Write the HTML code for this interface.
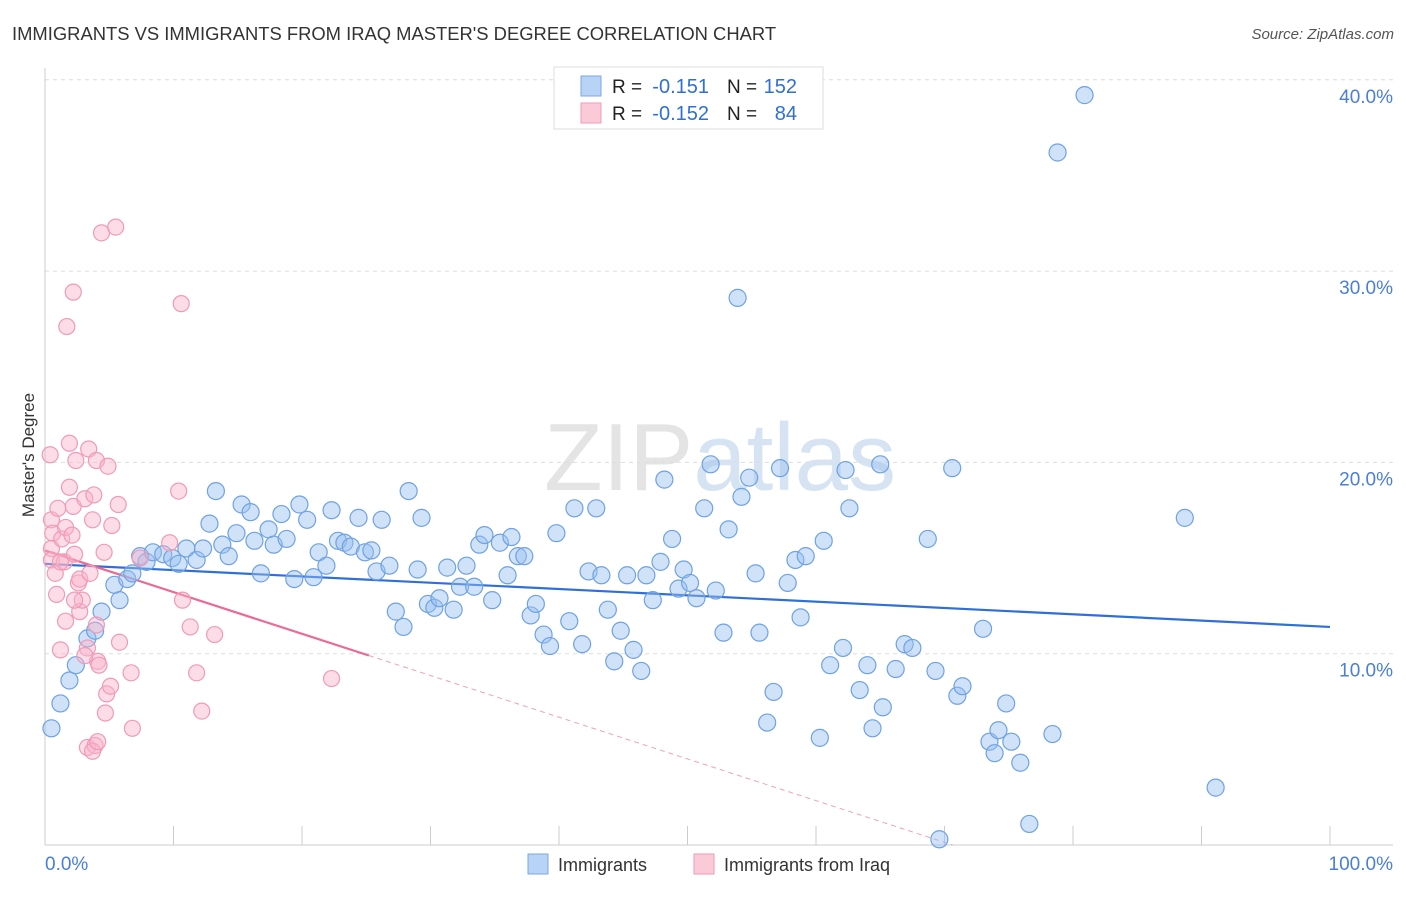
<!DOCTYPE html>
<html><head><meta charset="utf-8"><style>
body{margin:0;background:#fff;font-family:"Liberation Sans",sans-serif;}
svg text{font-family:"Liberation Sans",sans-serif;}
</style></head><body>
<svg id="chart" width="1406" height="892" xmlns="http://www.w3.org/2000/svg">
<text x="12" y="40" font-size="18.4" fill="#333">IMMIGRANTS VS IMMIGRANTS FROM IRAQ MASTER'S DEGREE CORRELATION CHART</text>
<text x="1394" y="39" font-size="15" fill="#555" font-style="italic" text-anchor="end">Source: ZipAtlas.com</text>
<text x="720" y="490" font-size="96" fill="#e4e4e4" text-anchor="middle" font-family="Liberation Serif">ZIP<tspan fill="#d6e3f3" font-family="Liberation Sans">atlas</tspan></text>
<g id="grid"></g>
<g id="axes"></g>
<g id="trend"></g>
<g id="points"></g>
<text transform="translate(34,455) rotate(-90)" font-size="17" fill="#333" text-anchor="middle">Master's Degree</text>
<text x="45" y="870" font-size="19" fill="#4a7fd6">0.0%</text>
<text x="1393" y="870" font-size="19" fill="#4a7fd6" text-anchor="end">100.0%</text>
<g>
<rect x="554" y="67" width="269" height="62" fill="#fff" stroke="#ddd"/>
<rect x="581" y="76" width="20" height="20" fill="#b8d3f5" stroke="#7aa8e6"/>
<text x="612" y="93" font-size="19" fill="#222">R =</text>
<text x="709" y="93" font-size="20" fill="#2f6fd6" text-anchor="end">-0.151</text>
<text x="727" y="93" font-size="19" fill="#222">N =</text>
<text x="797" y="93" font-size="20" fill="#2f6fd6" text-anchor="end">152</text>
<rect x="581" y="103" width="20" height="20" fill="#fbcad8" stroke="#f19ab6"/>
<text x="612" y="120" font-size="19" fill="#222">R =</text>
<text x="709" y="120" font-size="20" fill="#2f6fd6" text-anchor="end">-0.152</text>
<text x="727" y="120" font-size="19" fill="#222">N =</text>
<text x="797" y="120" font-size="20" fill="#2f6fd6" text-anchor="end">84</text>
</g>
<g>
<rect x="528" y="854" width="20" height="20" fill="#b8d3f5" stroke="#7aa8e6"/>
<text x="558" y="871" font-size="18" fill="#333">Immigrants</text>
<rect x="694" y="854" width="20" height="20" fill="#fbcad8" stroke="#f19ab6"/>
<text x="724" y="871" font-size="18" fill="#333">Immigrants from Iraq</text>
</g>
</svg>
<script>
const yTicks=[10,20,30,40];
const yTickLabels=["10.0%","20.0%","30.0%","40.0%"];
const xTicks=[0,10,20,30,40,50,60,70,80,90,100];
const blueX=[80.9,78.8,53.9,88.7,91.1,76.6,69.6,0.5,1.2,1.9,2.4,3.3,3.9,4.4,5.8,5.4,6.4,6.8,7.4,7.9,8.4,9.2,9.9,10.4,11.0,11.8,12.3,12.8,13.3,13.8,14.3,14.9,15.3,16.0,16.3,16.8,17.4,17.8,18.4,18.8,19.4,19.8,20.4,20.9,21.3,21.9,22.3,22.8,23.3,23.8,24.4,24.9,25.4,25.8,26.2,26.8,27.3,27.9,28.3,29.0,29.3,29.8,30.3,30.7,31.3,31.8,32.3,32.8,33.4,33.8,34.2,34.8,35.4,36.0,36.3,36.8,37.3,37.8,38.2,38.8,39.3,39.8,40.8,41.2,41.8,42.3,42.9,43.3,43.8,44.3,44.8,45.3,45.8,46.4,46.8,47.3,47.9,48.2,48.8,49.3,49.7,50.2,50.7,51.3,51.8,52.2,52.8,53.2,54.2,54.8,55.3,55.6,56.2,56.7,57.2,57.8,58.4,58.8,59.2,60.3,60.6,61.1,62.3,62.6,62.1,63.4,64.0,64.4,65.0,65.2,66.2,66.9,67.5,68.7,69.3,70.6,71.0,71.4,73.0,73.5,73.9,74.2,74.8,75.2,75.9,78.4];
const blueY=[39.2,36.2,28.6,17.1,3.0,1.1,0.3,6.1,7.4,8.6,9.4,10.8,11.2,12.2,12.8,13.6,13.9,14.2,15.1,14.8,15.3,15.2,15.0,14.7,15.5,14.9,15.5,16.8,18.5,15.7,15.1,16.3,17.8,17.4,15.9,14.2,16.5,15.7,17.3,16.0,13.9,17.8,17.0,14.0,15.3,14.6,17.5,15.9,15.8,15.6,17.1,15.3,15.4,14.3,17.0,14.6,12.2,11.4,18.5,14.4,17.1,12.6,12.4,12.9,14.5,12.3,13.5,14.6,13.5,15.7,16.2,12.8,15.8,14.1,16.1,15.1,15.1,12.0,12.6,11.0,10.4,16.3,11.7,17.6,10.5,14.3,17.6,14.1,12.3,9.6,11.2,14.1,10.2,9.1,14.1,12.8,14.8,19.1,16.0,13.4,14.4,13.7,12.9,17.6,19.9,13.3,11.1,16.5,18.2,19.2,14.2,11.1,6.4,8.0,19.7,13.7,14.9,11.9,15.1,5.6,15.9,9.4,19.6,17.6,10.3,8.1,9.4,6.1,19.9,7.2,9.2,10.5,10.3,16.0,9.1,19.7,7.8,8.3,11.3,5.4,4.8,6.0,7.4,5.4,4.3,5.8];
const pinkX=[0.4,0.5,0.6,0.5,0.5,0.8,0.9,1.0,1.3,1.5,1.7,1.9,1.9,2.2,2.2,2.3,2.4,2.6,2.7,2.9,3.1,3.3,3.3,3.4,3.7,3.8,4.0,4.0,4.1,4.2,4.4,4.6,4.7,4.8,4.9,5.1,5.2,5.5,5.8,5.7,6.8,6.7,7.4,9.7,10.4,10.6,10.7,11.3,11.8,12.2,13.2,22.3,3.9,3.7,4.1,1.6,2.1,1.2,2.7,3.5,2.3,1.6,3.1,1.2];
const pinkY=[20.4,17.0,16.3,15.5,14.9,14.2,13.1,17.6,16.0,14.8,27.1,21.0,18.7,28.9,17.7,15.2,20.1,13.7,12.2,12.8,18.1,10.3,5.1,20.7,17.0,18.3,20.1,11.5,9.6,9.4,32.0,15.3,6.9,7.9,19.8,8.3,16.7,32.3,10.6,17.8,6.1,9.0,15.0,15.8,18.5,28.3,12.8,11.4,9.0,7.0,11.0,8.7,5.2,4.9,5.4,16.6,16.2,14.8,13.9,14.2,12.8,11.7,9.9,10.2];
const blueTrend=[14.7,11.4];
const pinkTrend=[15.4,-0.218];
const NS="http://www.w3.org/2000/svg";
const X=v=>45+v*12.85, Y=v=>845-v*19.13;
function mk(tag,attrs,parent){const e=document.createElementNS(NS,tag);for(const k in attrs)e.setAttribute(k,attrs[k]);document.getElementById(parent).appendChild(e);return e;}
yTicks.forEach((t,i)=>{
 const l=mk('line',{x1:45,x2:1393,y1:Y(t),y2:Y(t),stroke:'#ddd','stroke-dasharray':'4,4'},'grid');
 
 
 const tx=mk('text',{x:1393,y:Y(t)+23,'font-size':19,fill:'#4a7fd6','text-anchor':'end'},'grid');
 tx.textContent=yTickLabels[i];
 
 
});
const ax=mk('line',{x1:45,x2:1393,y1:845,y2:845,stroke:'#ccc'},'axes');


const ay=mk('line',{x1:45,x2:45,y1:68,y2:845,stroke:'#ccc'},'axes');


xTicks.forEach(t=>{
 const l=mk('line',{x1:X(t),x2:X(t),y1:826,y2:845,stroke:'#ccc'},'axes');
 
 
});
const bt=mk('line',{x1:X(0),y1:Y(blueTrend[0]),x2:X(100),y2:Y(blueTrend[1]),stroke:'#2f6fd6','stroke-width':2.2},'trend');


const pf=x=>pinkTrend[0]+pinkTrend[1]*x;
const pt=mk('line',{x1:X(0),y1:Y(pf(0)),x2:X(25.2),y2:Y(pf(25.2)),stroke:'#ea6a94','stroke-width':2.2},'trend');


const xz=-pinkTrend[0]/pinkTrend[1];
const pd=mk('line',{x1:X(25.2),y1:Y(pf(25.2)),x2:X(xz),y2:Y(0),stroke:'#f0a0bb','stroke-width':1,'stroke-dasharray':'5,4'},'trend');


blueX.forEach((x,i)=>{
 const c=mk('circle',{cx:X(x),cy:Y(blueY[i]),r:8.5,fill:'rgba(150,190,240,0.45)',stroke:'#6fa2e3','stroke-width':1.2},'points');
 
 
});
pinkX.forEach((x,i)=>{
 const c=mk('circle',{cx:X(x),cy:Y(pinkY[i]),r:8,fill:'rgba(248,180,202,0.45)',stroke:'#f19ab6','stroke-width':1.2},'points');
 
 
});
</script>
</body></html>
